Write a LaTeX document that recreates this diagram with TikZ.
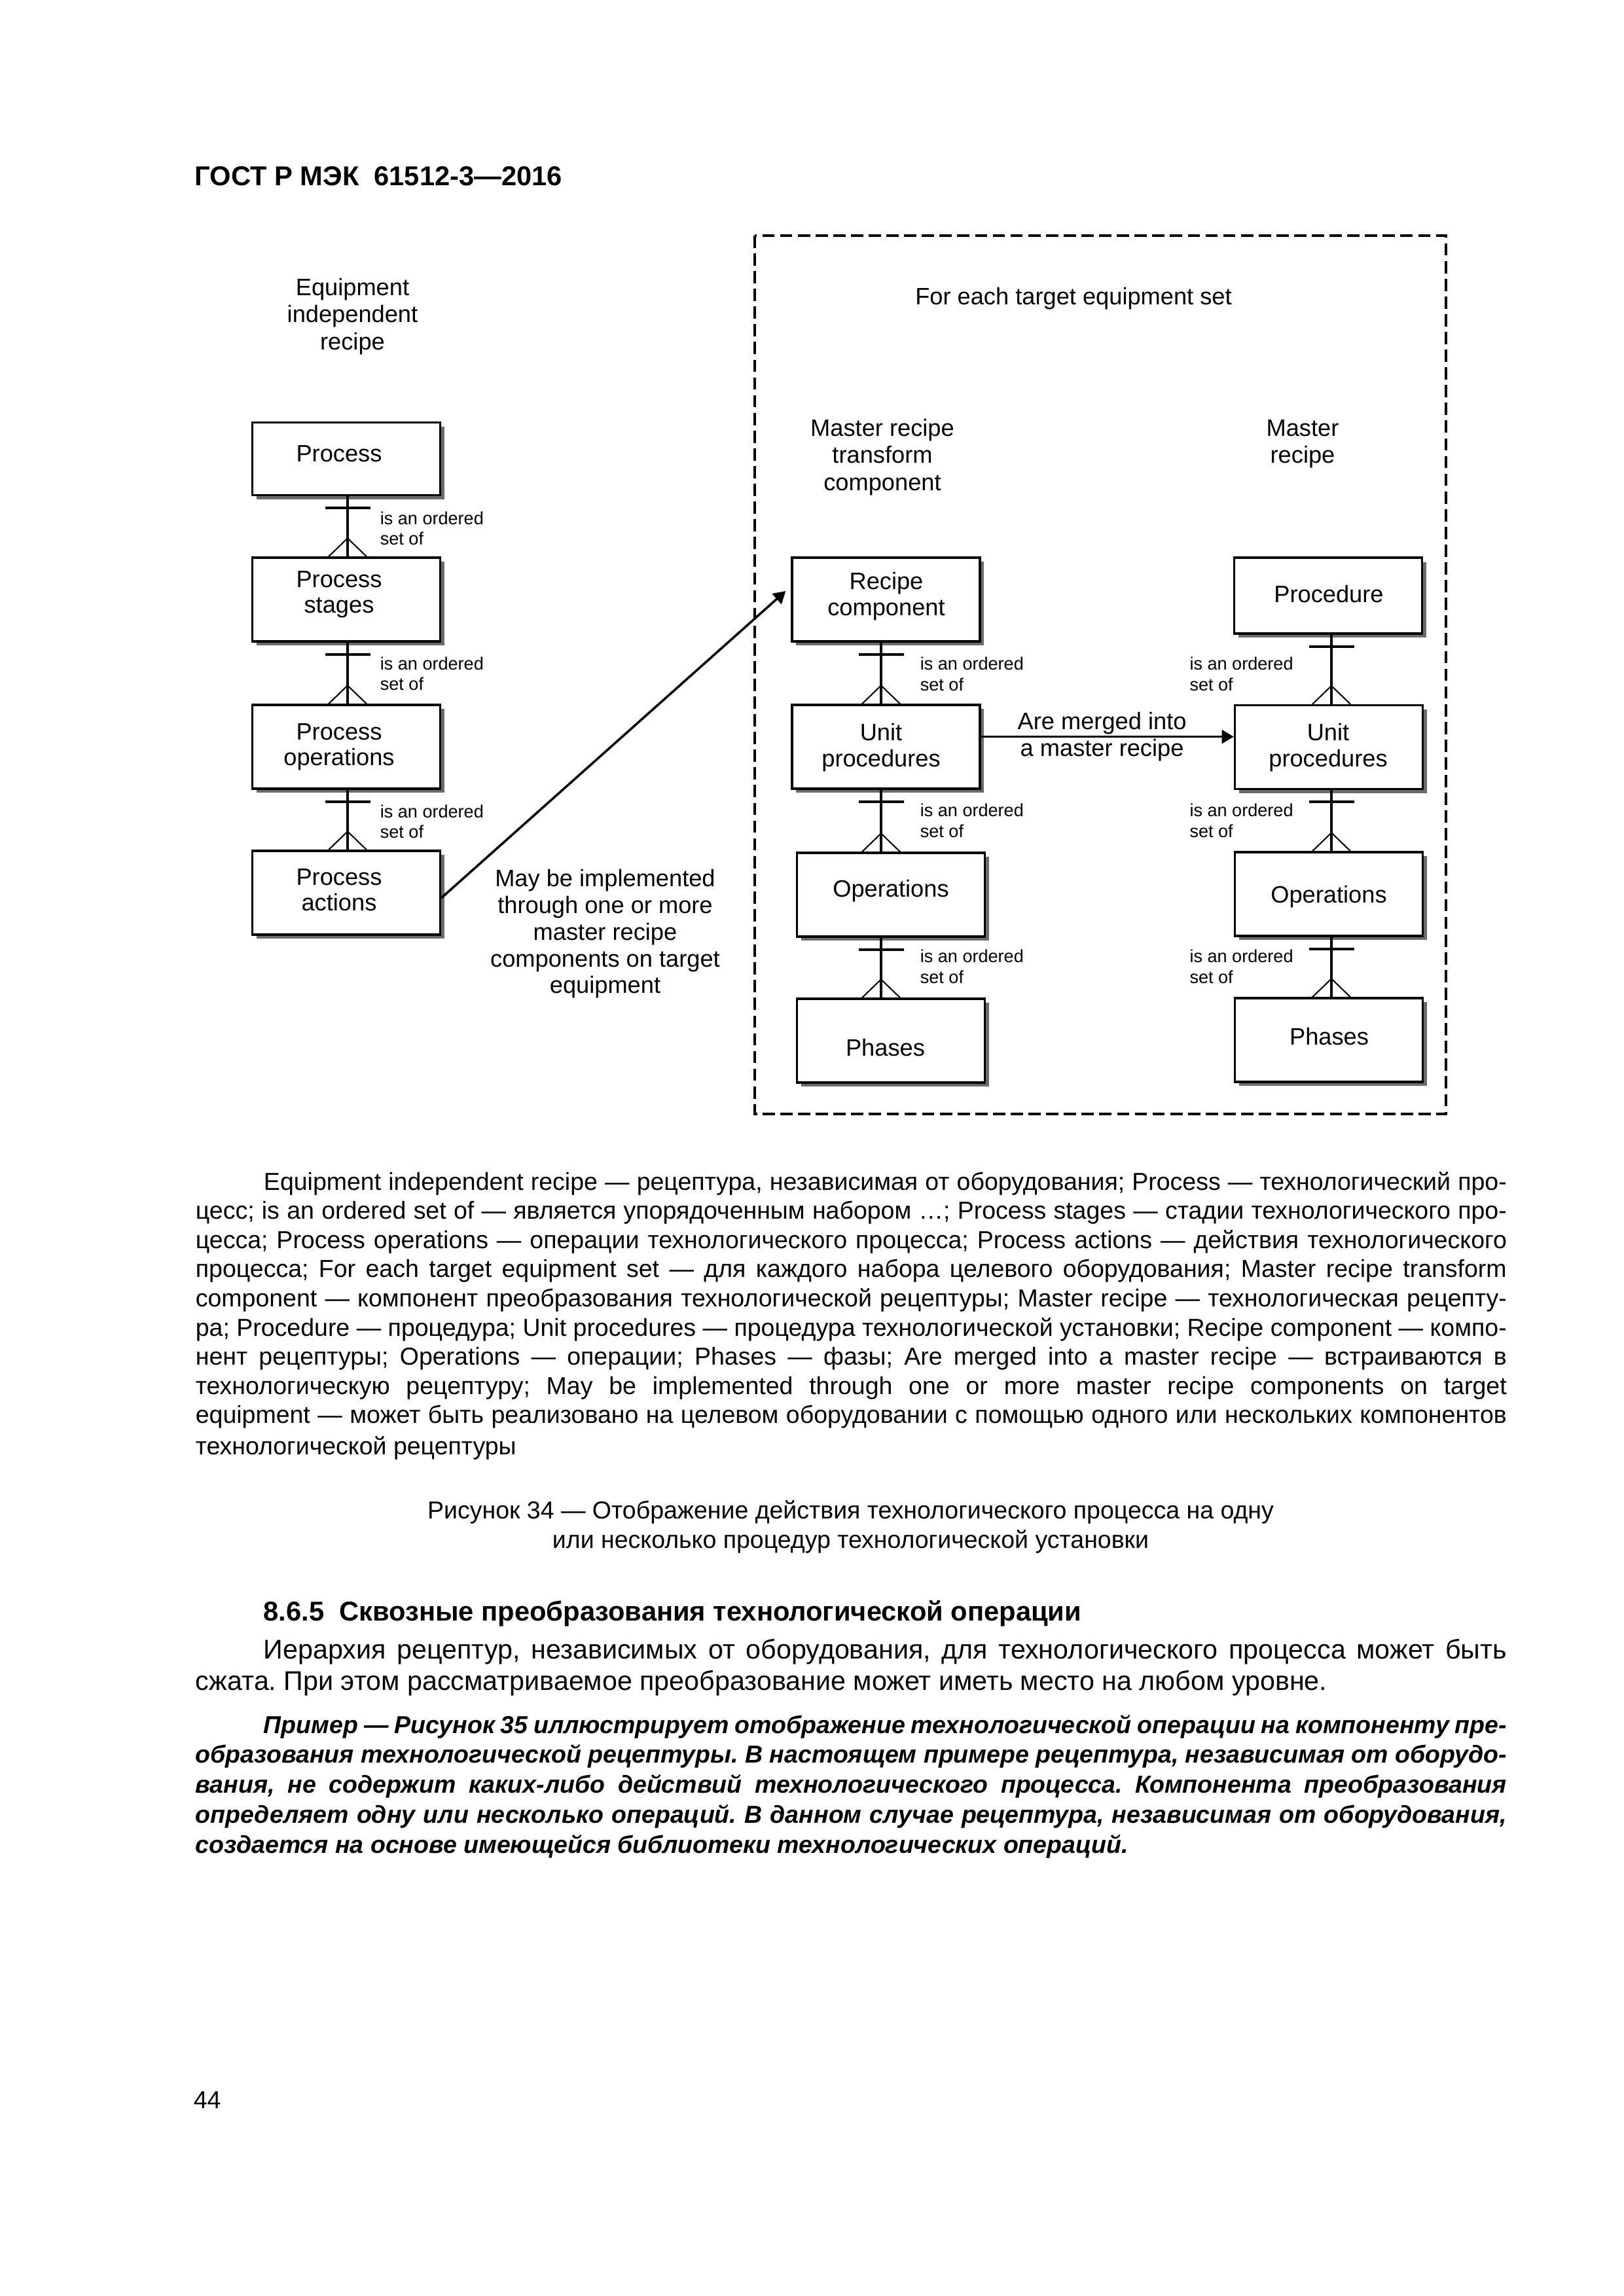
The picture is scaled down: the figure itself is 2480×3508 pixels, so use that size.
\documentclass[tikz,border=0pt]{standalone}
\usepackage{fontspec}
\setmainfont{Liberation Sans}
\usetikzlibrary{calc,shadows,arrows.meta}
\frenchspacing
\newcommand\cLine[1]{\hbox to 0pt{\hss#1\hss}}
\newcommand\stackLines[2]{\vtop{\baselineskip=#1\relax#2}}
\newcommand\justLine[1]{\hbox to \hsize{#1}}
\newcommand\erLink[3]{%
  \draw[conn] (#1.south -| #3) -- (#2.north -| #3);
  \draw[bar] ($(#1.south -| #3)+(-34.5,18)$) -- ($(#1.south -| #3)+(34.5,18)$);
  \draw[crow] ($(#2.north -| #3)+(-29,0)$) -- ($(#2.north -| #3)+(0,-28)$) -- ($(#2.north -| #3)+(29,0)$);}
\begin{document}
\begin{tikzpicture}[x=0.24004pt,y=-0.24004pt,
  box/.style={draw=black, line width=0.8pt, fill=white, inner sep=0pt,
    minimum width=68.9pt, minimum height=#1,
    drop shadow={shadow xshift=1.55pt, shadow yshift=-1.55pt, fill=black!58, opacity=1}},
  box/.default=30.72pt,
  btext/.style={anchor=base, inner sep=0pt, font=\fontsize{8.7}{9.4}\selectfont},
  ftext/.style={anchor=base, inner sep=0pt, font=\fontsize{8.7}{10}\selectfont},
  rel/.style={anchor=base west, inner sep=0pt, font=\fontsize{6.5}{7.6}\selectfont},
  conn/.style={line width=1pt},
  bar/.style={line width=1pt},
  crow/.style={line width=0.5pt},
  frame/.style={line width=1pt, dash pattern=on 4.5pt off 2pt},
  arr/.style={line width=0.85pt, -{Triangle[length=4.4pt,width=5pt]}},
  body/.style={anchor=base west, inner sep=0pt}]
\useasboundingbox (0,0) rectangle (2480,3508);
\fill[white] (0,0) rectangle (2480,3508);

% header
\node[body, font=\fontsize{10}{12}\selectfont\bfseries] (hdr) at (297,283.5) {ГОСТ Р МЭК~~61512-3—2016};

% frame
\draw[frame] (1153.3,360) rectangle (2209,1702.3);

% boxes
\node[box=26.6pt] (proc) at (529,701) {};
\node[box] (ps) at (529,916) {};
\node[box] (po) at (529,1141) {};
\node[box] (pa) at (529,1364) {};
\node[box] (rc) at (1353.5,916) {};
\node[box] (upl) at (1353.5,1141) {};
\node[box] (opl) at (1361,1367) {};
\node[box] (phl) at (1361,1590) {};
\node[box=27.8pt] (prd) at (2029,910) {};
\node[box] (upr) at (2030,1141.5) {};
\node[box] (opr) at (2030,1366) {};
\node[box] (phr) at (2030,1589) {};

% box texts
\node[btext] (procT) at (518,705) {Process};
\node[btext] (psT) at (518,897) {\stackLines{9.4pt}{\cLine{Process}\cLine{stages}}};
\node[btext] (poT) at (518,1130) {\stackLines{9.4pt}{\cLine{Process}\cLine{operations}}};
\node[btext] (paT) at (518,1352) {\stackLines{9.4pt}{\cLine{Process}\cLine{actions}}};
\node[btext] (rcT) at (1354,900) {\stackLines{9.6pt}{\cLine{Recipe}\cLine{component}}};
\node[btext] (uplT) at (1346,1131.6) {\stackLines{9.5pt}{\cLine{Unit}\cLine{procedures}}};
\node[btext] (oplT) at (1361,1370.7) {Operations};
\node[btext] (phlT) at (1352.5,1613.3) {Phases};
\node[btext] (prdT) at (2030,920.3) {Procedure};
\node[btext] (uprT) at (2029,1131.6) {\stackLines{9.5pt}{\cLine{Unit}\cLine{procedures}}};
\node[btext] (oprT) at (2030,1379.3) {Operations};
\node[btext] (phrT) at (2030.5,1596.7) {Phases};

% free labels
\node[ftext] (eir) at (538.5,451) {\stackLines{10pt}{\cLine{Equipment}\cLine{independent}\cLine{recipe}}};
\node[ftext] (fets) at (1640,465) {For each target equipment set};
\node[ftext] (mrtc) at (1348,666) {\stackLines{10pt}{\cLine{Master recipe}\cLine{transform}\cLine{component}}};
\node[ftext] (mr) at (1990,666) {\stackLines{10pt}{\cLine{Master}\cLine{recipe}}};
\node[ftext] (amr) at (1683.6,1114) {\stackLines{10pt}{\cLine{Are merged into}\cLine{a master recipe}}};
\node[ftext] (mbi) at (924.5,1354.6) {\stackLines{9.8pt}{\cLine{May be implemented}\cLine{through one or more}\cLine{master recipe}\cLine{components on target}\cLine{equipment}}};

% relation labels
\node[rel] (r1) at (580,801) {\stackLines{7.6pt}{\hbox{is an ordered}\hbox{set of}}};
\node[rel] (r2) at (580,1023) {\stackLines{7.6pt}{\hbox{is an ordered}\hbox{set of}}};
\node[rel] (r3) at (580,1249) {\stackLines{7.6pt}{\hbox{is an ordered}\hbox{set of}}};
\node[rel] (r4) at (1405,1023.5) {\stackLines{7.6pt}{\hbox{is an ordered}\hbox{set of}}};
\node[rel] (r5) at (1405,1247.5) {\stackLines{7.6pt}{\hbox{is an ordered}\hbox{set of}}};
\node[rel] (r6) at (1405,1470.7) {\stackLines{7.6pt}{\hbox{is an ordered}\hbox{set of}}};
\node[rel] (r7) at (1816.7,1023.5) {\stackLines{7.6pt}{\hbox{is an ordered}\hbox{set of}}};
\node[rel] (r8) at (1816.7,1247.5) {\stackLines{7.6pt}{\hbox{is an ordered}\hbox{set of}}};
\node[rel] (r9) at (1816.7,1470.7) {\stackLines{7.6pt}{\hbox{is an ordered}\hbox{set of}}};

% connectors
\coordinate (cA) at (531,0);
\coordinate (cB) at (1346,0);
\coordinate (cC) at (2034,0);
\erLink{proc}{ps}{cA}
\erLink{ps}{po}{cA}
\erLink{po}{pa}{cA}
\erLink{rc}{upl}{cB}
\erLink{upl}{opl}{cB}
\erLink{opl}{phl}{cB}
\erLink{prd}{upr}{cC}
\erLink{upr}{opr}{cC}
\erLink{opr}{phr}{cC}

% arrows
\draw[arr] ($(pa.east)+(0,8)$) -- ($(rc.west)+(-8,-13)$);
\draw[arr] ($(upl.east)+(0,-15.4)$) -- ($(upr.west)+(0,-15.9)$);

% legend
\node[body, font=\fontsize{9}{10.71}\selectfont] (legend) at (298,1818) {\vtop{\hsize=480.8pt \baselineskip=10.71pt
\justLine{\hskip25pt Equipment independent recipe — рецептура, независимая от оборудования; Process — технологический про-}
\justLine{цесс; is an ordered set of — является упорядоченным набором …; Process stages — стадии технологического про-}
\justLine{цесса; Process operations — операции технологического процесса; Process actions — действия технологического}
\justLine{процесса; For each target equipment set — для каждого набора целевого оборудования; Master recipe transform}
\justLine{component — компонент преобразования технологической рецептуры; Master recipe — технологическая рецепту-}
\justLine{ра; Procedure — процедура; Unit procedures — процедура технологической установки; Recipe component — компо-}
\justLine{нент рецептуры; Operations — операции; Phases — фазы; Are merged into a master recipe — встраиваются в}
\justLine{технологическую рецептуру; May be implemented through one or more master recipe components on target}
\justLine{equipment — может быть реализовано на целевом оборудовании с помощью одного или нескольких компонентов}
\vskip0.6pt\hbox{технологической рецептуры}}};

% caption
\node[anchor=base, inner sep=0pt, font=\fontsize{9}{10.8}\selectfont] (cap) at (1299.5,2320) {\stackLines{10.8pt}{\cLine{Рисунок 34 — Отображение действия технологического процесса на одну}\cLine{или несколько процедур технологической установки}}};

% section heading
\node[body, font=\fontsize{10}{12}\selectfont\bfseries] (h865) at (402,2476) {8.6.5~~Сквозные преобразования технологической операции};

% paragraph
\node[body, font=\fontsize{9.9}{11.52}\selectfont] (para) at (298,2534) {\vtop{\hsize=480.8pt \baselineskip=11.52pt
\justLine{\hskip25pt Иерархия рецептур, независимых от оборудования, для технологического процесса может быть}
\hbox{сжата. При этом рассматриваемое преобразование может иметь место на любом уровне.}}};

% example
\node[body, font=\fontsize{9}{11}\selectfont\bfseries\itshape] (ex) at (298,2648) {\vtop{\hsize=480.8pt \baselineskip=11pt
\justLine{\hskip25pt Пример — Рисунок 35 иллюстрирует отображение технологической операции на компоненту пре-}
\justLine{образования технологической рецептуры. В настоящем примере рецептура, независимая от оборудо-}
\justLine{вания, не содержит каких-либо действий технологического процесса. Компонента преобразования}
\justLine{определяет одну или несколько операций. В данном случае рецептура, независимая от оборудования,}
\hbox{создается на основе имеющейся библиотеки технологических операций.}}};

% page number
\node[body, font=\fontsize{9}{11}\selectfont] (pg) at (295,3221) {44};
\end{tikzpicture}
\end{document}
